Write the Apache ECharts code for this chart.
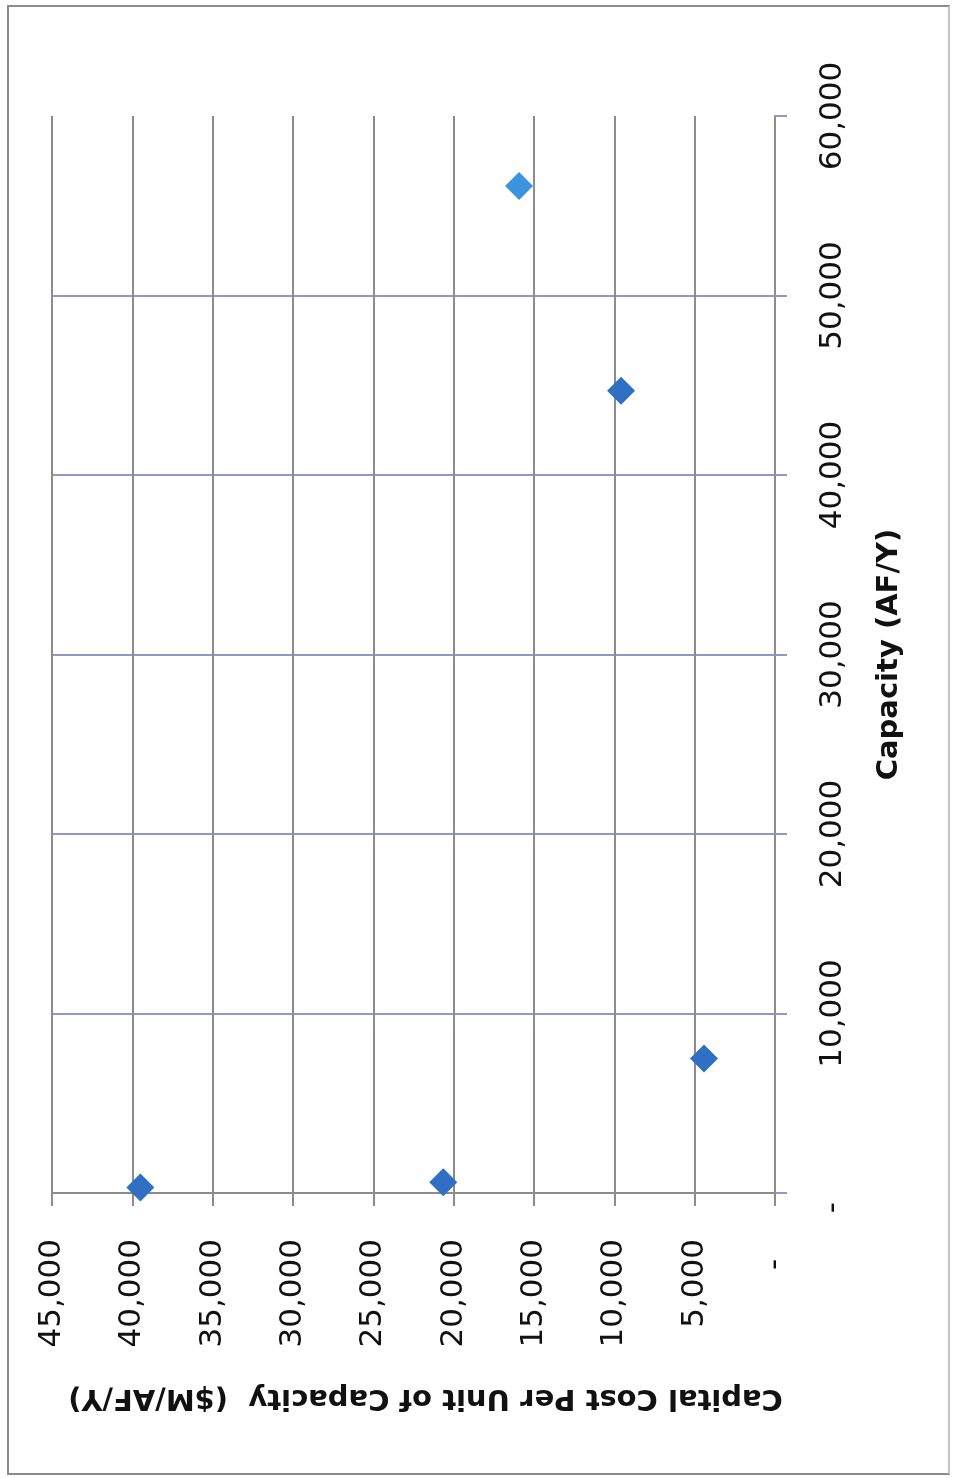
<!DOCTYPE html>
<html>
<head>
<meta charset="utf-8">
<script src="https://cdn.jsdelivr.net/npm/echarts@6/dist/echarts.min.js"></script>
<style>
  body { margin: 0; background: #fff; }
  #frame { position: absolute; left: 7px; top: 5px; width: 939px; height: 1466px; border: 2px solid #8a8a8a; border-right-color: #c4c4c4; }
  #chartMain { position: absolute; left: 0; top: 0; width: 954px; height: 1478px; }
</style>
</head>
<body>
<div id="frame"></div>
<div id="chartMain"></div>
<script>
"use strict";
/*global echarts*/

var costValues = [39500, 20650, 4420, 9580];
var capacityValues = [300, 600, 7500, 44700];
// the upper point is a lighter blue, kept as its own series
var extraCost = [15930];
var extraCapacity = [56100];

var costTicks = [0, 5000, 10000, 15000, 20000, 25000, 30000, 35000, 40000, 45000];
var costTickLabels = ["-\u00a0\u00a0", "5,000", "10,000", "15,000", "20,000", "25,000", "30,000", "35,000", "40,000", "45,000"];
var capacityTicks = [0, 10000, 20000, 30000, 40000, 50000, 60000];
var capacityTickLabels = ["-\u00a0\u00a0\u00a0", "10,000", "20,000", "30,000", "40,000", "50,000", "60,000"];

function pairs(xs, ys) {
  return xs.map(function (x, i) { return [x, ys[i]]; });
}
function tickLabel(ticks, labels) {
  return function (v) {
    var i = ticks.indexOf(v);
    return i < 0 ? "" : labels[i];
  };
}

function initGraph() {
  var myChart = echarts.init(document.getElementById("chartMain"));
  var gridGray = "#8c8c8c";
  var gridBlue = "#8f98c8";
  var options = {
    animation: false,
    grid: { left: 52, right: 179, top: 116, bottom: 285 },
    xAxis: {
      type: "value",
      min: 0,
      max: 45000,
      interval: 5000,
      inverse: true,
      position: "bottom",
      name: "Capital Cost Per Unit of Capacity  ($M/AF/Y)",
      nameLocation: "middle",
      nameRotate: 180,
      nameGap: 190,
      nameTextStyle: {
        fontFamily: "DejaVu Sans", fontWeight: "bold", fontSize: 29, color: "#111",
        padding: [0, 24, 0, 0]
      },
      axisLine: { show: true, lineStyle: { color: gridGray, width: 2 } },
      axisTick: { show: true, length: 13, lineStyle: { color: gridGray, width: 2 } },
      axisLabel: {
        rotate: 90,
        margin: 46,
        fontFamily: "DejaVu Sans",
        fontSize: 31,
        color: "#111",
        formatter: tickLabel(costTicks, costTickLabels)
      },
      splitLine: { show: true, lineStyle: { color: gridGray, width: 2 } }
    },
    yAxis: {
      type: "value",
      min: 0,
      max: 60000,
      interval: 10000,
      position: "right",
      name: "Capacity (AF/Y)",
      nameLocation: "middle",
      nameRotate: 90,
      nameGap: 100,
      nameTextStyle: { fontFamily: "DejaVu Sans", fontWeight: "bold", fontSize: 29, color: "#111" },
      axisLine: { show: true, lineStyle: { color: gridGray, width: 2 } },
      axisTick: { show: true, length: 12, lineStyle: { color: gridBlue, width: 2 } },
      axisLabel: {
        rotate: 90,
        margin: 42,
        fontFamily: "DejaVu Sans",
        fontSize: 31,
        color: "#111",
        formatter: tickLabel(capacityTicks, capacityTickLabels)
      },
      splitLine: { show: true, showMaxLine: false, lineStyle: { color: gridBlue, width: 2 } }
    },
    series: [
      {
        type: "scatter",
        symbol: "diamond",
        symbolSize: 28,
        itemStyle: { color: "#2f6fc4", opacity: 1 },
        data: pairs(costValues, capacityValues)
      },
      {
        type: "scatter",
        symbol: "diamond",
        symbolSize: 28,
        itemStyle: { color: "#3b94de", opacity: 1 },
        data: pairs(extraCost, extraCapacity)
      }
    ]
  };
  myChart.setOption(options);
  return myChart;
}

initGraph();
</script>
</body>
</html>
